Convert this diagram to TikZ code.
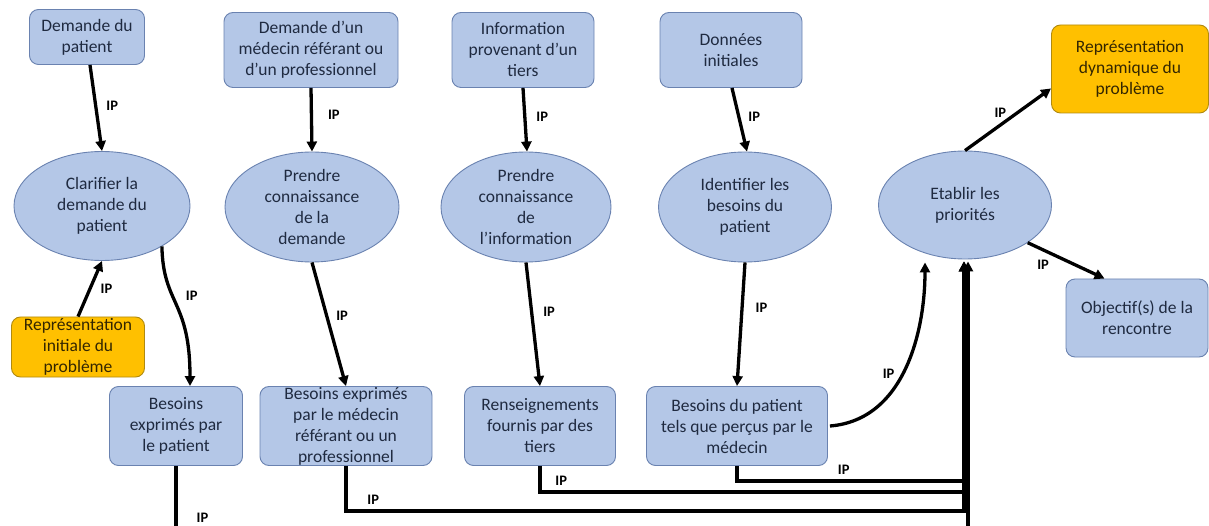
\documentclass[tikz,border=0pt]{standalone}
\usepackage{fontspec}
\setmainfont{Carlito}
\usetikzlibrary{arrows.meta,shapes.geometric,calc}
\definecolor{bfill}{HTML}{B4C7E7}
\definecolor{bdraw}{HTML}{6A82B0}
\definecolor{ofill}{HTML}{FFC000}
\definecolor{odraw}{HTML}{B08A10}
\definecolor{btext}{HTML}{1F2A40}
\definecolor{otext}{HTML}{332600}
\begin{document}
\begin{tikzpicture}[x=1pt,y=-1pt,
  base/.style={align=center, inner sep=0pt, font=\fontsize{17.5}{21}\selectfont, line width=0.9pt},
  bbox/.style={base, draw=bdraw, fill=bfill, text=btext, rounded corners=9pt},
  obox/.style={base, draw=odraw, fill=ofill, text=otext, rounded corners=9pt},
  oval/.style={base, ellipse, draw=bdraw, fill=bfill, text=btext},
  conn/.style={line width=3.3pt},
  arr/.style={conn, -{Triangle[length=10pt,width=10pt]}},
  ip/.style={font=\fontsize{14.5}{14.5}\selectfont\bfseries, text=black, inner sep=0pt}
]
\useasboundingbox (0,0) rectangle (1209,526);
\clip (0,0) rectangle (1209,526);

% top sources
\node[bbox, minimum width=115, minimum height=55] (d1) at (87,37) {Demande du\\patient};
\node[bbox, minimum width=174, minimum height=75] (d2) at (311,50) {Demande d’un\\médecin référant ou\\d’un professionnel};
\node[bbox, minimum width=142, minimum height=75] (d3) at (523,50) {Information\\provenant d’un\\tiers};
\node[bbox, minimum width=142, minimum height=75] (d4) at (731,50) {Données\\initiales};
\node[obox, minimum width=157, minimum height=88] (rd) at (1130,69) {Représentation\\dynamique du\\problème};

% ellipses
\node[oval, minimum width=176, minimum height=109] (e1) at (102,206) {Clarifier la\\demande du\\patient};
\node[oval, minimum width=174, minimum height=110] (e2) at (312,207) {Prendre\\connaissance\\de la\\demande};
\node[oval, minimum width=170, minimum height=110] (e3) at (526,207) {Prendre\\connaissance\\de\\l’information};
\node[oval, minimum width=173, minimum height=110] (e4) at (745,207) {Identifier les\\besoins du\\patient};
\node[oval, minimum width=173, minimum height=108] (e5) at (965,205) {Etablir les\\priorités};

% lower boxes
\node[obox, minimum width=133, minimum height=60] (ri) at (78,347) {Représentation\\initiale du\\problème};
\node[bbox, minimum width=133, minimum height=79] (b1) at (176,426) {Besoins\\exprimés par\\le patient};
\node[bbox, minimum width=172, minimum height=79] (b2) at (346,426) {Besoins exprimés\\par le médecin\\référant ou un\\professionnel};
\node[bbox, minimum width=151, minimum height=79] (b3) at (540,426) {Renseignements\\fournis par des\\tiers};
\node[bbox, minimum width=181, minimum height=79] (b4) at (737,426) {Besoins du patient\\tels que perçus par le\\médecin};
\node[bbox, minimum width=142, minimum height=78] (ob) at (1137,318) {Objectif(s) de la\\rencontre};

% arrows from sources
\draw[arr] ($(d1.south)+(3,0)$) -- (e1.north) node[ip, pos=.48, right=9pt] {IP};
\draw[arr] (d2.south) -- (e2.north) node[ip, pos=.42, right=15pt] {IP};
\draw[arr] (d3.south) -- ($(e3.north)+(1,0)$) node[ip, pos=.45, right=10pt] {IP};
\draw[arr] ($(d4.south)+(1,0)$) -- ($(e4.north)+(2,0)$) node[ip, pos=.45, right=8pt] {IP};
\draw[arr] (ri.north) -- (e1.south) node[ip, pos=.5, right=9pt] {IP};

% arrows from ellipses
\draw[arr] (e1.-34) .. controls (163,305) and (190,300) .. ($(b1.north)+(14,0)$) node[ip, pos=.4, right=12pt] {IP};
\draw[arr] (e2.south) -- (b2.north) node[ip, pos=.43, right=8pt] {IP};
\draw[arr] (e3.south) -- (b3.north) node[ip, pos=.4, right=10pt] {IP};
\draw[arr] (e4.south) -- (b4.north) node[ip, pos=.37, right=12pt] {IP};

% to Etablir les priorites
\draw[arr] ($(b4.east)+(2,0)$) .. controls (905,420) and (925,330) .. ($(e5.south)+(-40,3)$) node[ip, pos=.42, above left=2pt] {IP};
\draw[arr] (e5.north) -- ($(rd.south west)+(0,-25)$) node[ip, pos=.41, above=6pt] {IP};
\draw[arr] (e5.-31) -- ($(ob.north west)+(39,0)$) node[ip, pos=.2, below=9pt] {IP};

% bottom collector lines
\draw[arr] (b4.south) -- ++(0,15) -| node[ip, pos=.235, above=5pt] {IP} ($(e5.south)+(-1,2)$);
\draw[arr] (b3.south) -- ++(0,26) -| node[ip, pos=.025, above=5pt] {IP} ($(e5.south)+(-1,2)$);
\draw[arr] (b2.south) -- ++(0,45) -| node[ip, pos=.022, above=5pt] {IP} ($(e5.south)+(-1,2)$);
\draw[arr] (b1.south) -- node[ip, pos=.65, right=19pt] {IP} ++(0,80) -| ($(e5.south)+(3,2)$);
\end{tikzpicture}
\end{document}
